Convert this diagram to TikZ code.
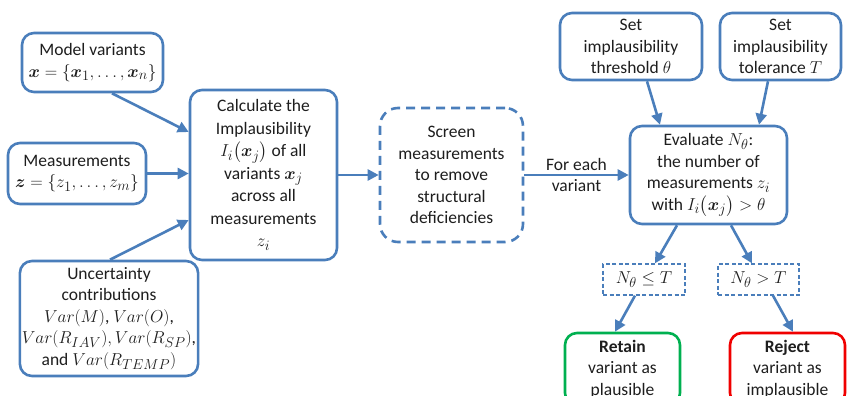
\documentclass[tikz,border=0pt]{standalone}
\usepackage{amsmath}
\usepackage{fontspec}
\setmainfont{Carlito}
\DeclareMathSizes{17.5}{19}{13.5}{10}
\usetikzlibrary{arrows.meta,calc}

\definecolor{flowblue}{RGB}{74,126,187}
\definecolor{okgreen}{RGB}{0,176,80}
\definecolor{badred}{RGB}{240,0,0}
\definecolor{ink}{RGB}{30,30,30}

\tikzset{
  box/.style={draw=flowblue, line width=2.6pt, rounded corners=12pt, fill=white,
    align=center, text=ink, inner sep=2pt,
    font=\fontsize{17.5}{21.5}\selectfont},
  dashbox/.style={box, dash pattern=on 9pt off 6pt, rounded corners=18pt},
  condbox/.style={draw=flowblue, line width=1.3pt, dash pattern=on 4pt off 2.5pt,
    align=center, text=ink, inner sep=0pt, font=\fontsize{17.5}{21.5}\selectfont},
  flow/.style={draw=flowblue, line width=2.6pt,
    -{Triangle[length=11pt,width=11pt]}},
  lbl/.style={align=center, text=ink, font=\fontsize{17.5}{21.5}\selectfont}
}

\begin{document}
\begin{tikzpicture}[x=1pt,y=-1pt]
\useasboundingbox (0,0) rectangle (852,396);
\clip (0,0) rectangle (852,396);

% inputs
\node[box, minimum width=141pt, minimum height=59pt] (model) at (92.5,62.5)
  {Model variants\\ $\boldsymbol{x}=\{\boldsymbol{x}_1,\ldots,\boldsymbol{x}_n\}$};
\node[box, minimum width=138pt, minimum height=61pt] (meas) at (77,173.5)
  {Measurements\\ $\boldsymbol{z}=\{z_1,\ldots,z_m\}$};
\node[box, minimum width=174pt, minimum height=115pt] (unc) at (109,318.5)
  {Uncertainty\\ contributions\\ $Var(M)$, $Var(O)$,\\ $Var(R_{IAV}),Var(R_{SP})$,\\ and $Var(R_{TEMP})$};

% processing chain
\node[box, minimum width=147pt, minimum height=170pt,
  font=\fontsize{17.5}{22.5}\selectfont] (calc) at (263.5,175)
  {Calculate the\\ Implausibility\\ $I_i\bigl(\boldsymbol{x}_j\bigr)$ of all\\ variants $\boldsymbol{x}_j$\\ across all\\ measurements\\ $z_i$};
\node[dashbox, minimum width=143pt, minimum height=134pt] (screen) at (451.5,175)
  {Screen\\ measurements\\ to remove\\ structural\\ deficiencies};

% thresholds
\node[box, minimum width=142pt, minimum height=67pt] (thr) at (631,46.5)
  {Set\\ implausibility\\ threshold $\theta$};
\node[box, minimum width=121pt, minimum height=67pt] (tol) at (780.5,46.5)
  {Set\\ implausibility\\ tolerance $T$};

\node[box, minimum width=157pt, minimum height=98pt] (eval) at (708.5,175)
  {Evaluate $N_\theta$:\\ the number of\\ measurements $z_i$\\ with $I_i\bigl(\boldsymbol{x}_j\bigr)>\theta$};

% decision
\node[condbox, minimum width=82pt, minimum height=31pt] (le) at (644,279.5) {$N_\theta\leq T$};
\node[condbox, minimum width=81pt, minimum height=31pt] (gt) at (758.5,279.5) {$N_\theta>T$};

\node[box, draw=okgreen, minimum width=115pt, minimum height=72pt] (retain) at (622.5,369)
  {\textbf{Retain}\\ variant as\\ plausible};
\node[box, draw=badred, minimum width=115pt, minimum height=72pt] (reject) at (787.5,369)
  {\textbf{Reject}\\ variant as\\ implausible};

% connectors
\draw[flow] ($(model.south)+(19.5,0)$) -- ($(calc.west)+(0,-43)$);
\draw[flow] (meas.east) -- (meas.east -| calc.west);
\draw[flow] ($(unc.north)+(1,0)$) -- ($(calc.west)+(0,45)$);
\draw[flow] (calc.east) -- (screen.west);
\draw[flow] (screen.east) -- (eval.west)
  node[lbl, midway] (each) {For each\\ variant};
\draw[flow] ($(thr.south)+(16,0)$) -- ($(eval.north)+(-48.5,0)$);
\draw[flow] ($(tol.south)+(-12.5,0)$) -- ($(eval.north)+(50.5,0)$);
\draw[flow] ($(eval.south)+(-31.5,0)$) -- ($(le.north)+(11,0)$);
\draw[flow] ($(eval.south)+(22.5,0)$) -- ($(gt.north)+(-6.5,0)$);
\draw[flow] ($(le.south)+(-9,0)$) -- ($(retain.north)+(-7.5,0)$);
\draw[flow] ($(gt.south)+(14.5,0)$) -- ($(reject.north)+(5.5,0)$);
\end{tikzpicture}
\end{document}
